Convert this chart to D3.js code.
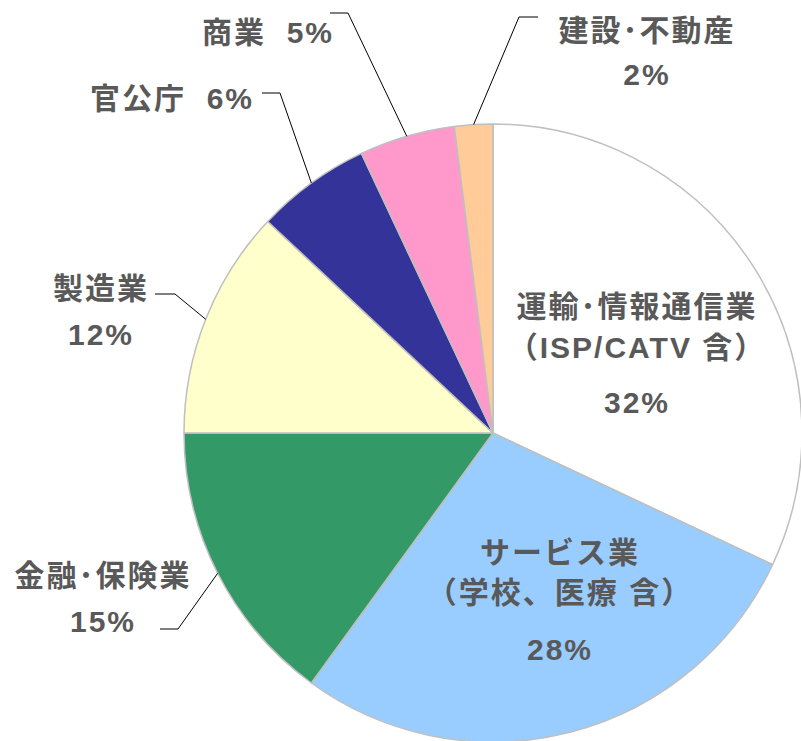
<!DOCTYPE html>
<html>
<head>
<meta charset="utf-8">
<script src="https://cdn.jsdelivr.net/npm/d3@7"></script>
<style>
  body { margin: 0; background: #fff; }
  svg { display: block; }
  text { font-family: "Liberation Sans", "Noto Sans CJK JP", sans-serif; font-weight: bold; fill: #595959; white-space: pre; }
</style>
</head>
<body>
<script>
// 業種別の割合
var categories = ["運輸・情報通信業", "サービス業", "金融・保険業", "製造業", "官公庁", "商業", "建設・不動産"];
var values = [32, 28, 15, 12, 6, 5, 2];
var colors = ["#FFFFFF", "#99CCFF", "#339966", "#FFFFCC", "#333399", "#FF99CC", "#FFCC99"];
var labelLines = [
  ["運輸･情報通信業", "（ISP/CATV 含）", "", "32%"],
  ["サービス業", "（学校、医療 含）", "", "28%"],
  ["金融･保険業", "15%"],
  ["製造業", "12%"],
  ["官公庁  6%"],
  ["商業  5%"],
  ["建設･不動産", "2%"]
];

var width = 801, height = 741;
var cx = 493, cy = 433, r = 309;

// ラベル配置 (x, 1行目y, 行間, anchor)
var labelPos = [
  {x: 637, y: 306, dy: [0, 41, 0, 96], anchor: "middle"},
  {x: 560, y: 552, dy: [0, 40, 0, 97], anchor: "middle"},
  {x: 103, y: 575, dy: [0, 46], anchor: "middle"},
  {x: 101, y: 288, dy: [0, 46], anchor: "middle"},
  {x: 254, y: 98, dy: [0], anchor: "end"},
  {x: 334, y: 32, dy: [0], anchor: "end"},
  {x: 647, y: 30, dy: [0, 44], anchor: "middle"}
];
// 引き出し線の折れ点 (水平線の外端, 折れ点)
var leaders = {
  2: [[160, 629], [178, 629]],
  3: [[155, 294], [175, 294]],
  4: [[262, 93], [280, 93]],
  5: [[330, 13], [348, 13]],
  6: [[538, 17], [519, 17]]
};

var svg = d3.select("body").append("svg").attr("width", width).attr("height", height);

var pie = d3.pie().sort(null).value(function (d) { return d; });
var arcs = pie(values);
var arc = d3.arc().innerRadius(0).outerRadius(r);

var g = svg.append("g").attr("transform", "translate(" + cx + "," + cy + ")");
g.selectAll(".slice").data(arcs).enter().append("path")
  .attr("d", arc)
  .attr("fill", function (d, i) { return colors[i]; })
  .attr("stroke", "#BFBFBF")
  .attr("stroke-width", 1.5)
  .attr("stroke-linejoin", "round");

// 引き出し線
Object.keys(leaders).forEach(function (k) {
  var a = arcs[k];
  var mid = (a.startAngle + a.endAngle) / 2;
  var px = cx + r * Math.sin(mid), py = cy - r * Math.cos(mid);
  var pts = leaders[k].concat([[px, py]]);
  svg.append("path")
    .attr("d", d3.line()(pts))
    .attr("fill", "none")
    .attr("stroke", "#000")
    .attr("stroke-width", 1);
});

// ラベル
labelLines.forEach(function (lines, i) {
  var p = labelPos[i];
  lines.forEach(function (t, j) {
    if (!t) return;
    svg.append("text")
      .attr("x", p.x)
      .attr("y", p.y + p.dy[j])
      .attr("dy", "0.36em")
      .attr("text-anchor", p.anchor)
      .attr("font-size", 30)
      .attr("letter-spacing", 2)
      .text(t);
  });
});
</script>
</body>
</html>
